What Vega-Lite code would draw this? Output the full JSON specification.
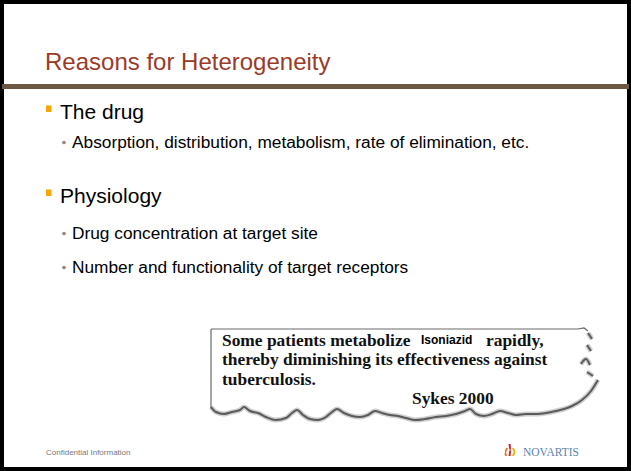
{
  "$schema": "https://vega.github.io/schema/vega-lite/v6.json",
  "width": 631,
  "height": 471,
  "autosize": {"type": "none"},
  "padding": 0,
  "background": "white",
  "config": {"view": {"stroke": null}},
  "datasets": {
    "texts": [
      {"role": "title", "x": 45, "y": 70, "label": "Reasons for Heterogeneity"},
      {"role": "l1", "x": 60, "y": 119, "label": "The drug"},
      {"role": "l2", "x": 72, "y": 148, "label": "Absorption, distribution, metabolism, rate of elimination, etc."},
      {"role": "l1", "x": 60, "y": 203, "label": "Physiology"},
      {"role": "l2", "x": 72, "y": 239, "label": "Drug concentration at target site"},
      {"role": "l2", "x": 72, "y": 273, "label": "Number and functionality of target receptors"},
      {"role": "quote", "x": 222, "y": 346, "label": "Some patients metabolize"},
      {"role": "quote", "x": 486, "y": 346, "label": "rapidly,"},
      {"role": "quote", "x": 222, "y": 365, "label": "thereby diminishing its effectiveness against"},
      {"role": "quote", "x": 222, "y": 385, "label": "tuberculosis."},
      {"role": "quote", "x": 412, "y": 404, "label": "Sykes 2000"},
      {"role": "drugname", "x": 421, "y": 344, "label": "Isoniazid"},
      {"role": "footer", "x": 46, "y": 455, "label": "Confidential Information"},
      {"role": "brand", "x": 523, "y": 456, "label": "NOVARTIS"}
    ],
    "boxes": [
      {"part": "frame", "x": 2, "x2": 629, "y": 2, "y2": 469},
      {"part": "band", "x": 2, "x2": 629, "y": 84, "y2": 89},
      {"part": "square", "x": 46, "x2": 51.5, "y": 105.5, "y2": 112},
      {"part": "square", "x": 46, "x2": 51.5, "y": 189.5, "y2": 196}
    ],
    "dots": [
      {"x": 64, "y": 142.5},
      {"x": 64, "y": 233.5},
      {"x": 64, "y": 267.5}
    ],
    "paper": [
      {"seg": "top", "i": 1, "x": 211, "y": 329},
      {"seg": "top", "i": 2, "x": 578, "y": 329},
      {"seg": "top", "i": 3, "x": 584, "y": 328},
      {"seg": "top", "i": 4, "x": 588, "y": 331},
      {"seg": "left", "i": 1, "x": 211, "y": 329},
      {"seg": "left", "i": 2, "x": 211, "y": 408}
    ],
    "torn": [
      {"seg": "b", "i": 1, "x": 211, "y": 407},
      {"seg": "b", "i": 2, "x": 216, "y": 412},
      {"seg": "b", "i": 3, "x": 224, "y": 414},
      {"seg": "b", "i": 4, "x": 232, "y": 412},
      {"seg": "b", "i": 5, "x": 240, "y": 410},
      {"seg": "b", "i": 6, "x": 244, "y": 407},
      {"seg": "b", "i": 7, "x": 250, "y": 411},
      {"seg": "b", "i": 8, "x": 258, "y": 413},
      {"seg": "b", "i": 9, "x": 266, "y": 417},
      {"seg": "b", "i": 10, "x": 276, "y": 420},
      {"seg": "b", "i": 11, "x": 286, "y": 418},
      {"seg": "b", "i": 12, "x": 292, "y": 413},
      {"seg": "b", "i": 13, "x": 297, "y": 410},
      {"seg": "b", "i": 14, "x": 303, "y": 415},
      {"seg": "b", "i": 15, "x": 310, "y": 419},
      {"seg": "b", "i": 16, "x": 318, "y": 420},
      {"seg": "b", "i": 17, "x": 326, "y": 417},
      {"seg": "b", "i": 18, "x": 332, "y": 412},
      {"seg": "b", "i": 19, "x": 337, "y": 409},
      {"seg": "b", "i": 20, "x": 344, "y": 413},
      {"seg": "b", "i": 21, "x": 352, "y": 416},
      {"seg": "b", "i": 22, "x": 360, "y": 417},
      {"seg": "b", "i": 23, "x": 368, "y": 415},
      {"seg": "b", "i": 24, "x": 375, "y": 411},
      {"seg": "b", "i": 25, "x": 382, "y": 413},
      {"seg": "b", "i": 26, "x": 390, "y": 415},
      {"seg": "b", "i": 27, "x": 398, "y": 416},
      {"seg": "b", "i": 28, "x": 406, "y": 418},
      {"seg": "b", "i": 29, "x": 415, "y": 420},
      {"seg": "b", "i": 30, "x": 425, "y": 419},
      {"seg": "b", "i": 31, "x": 436, "y": 417},
      {"seg": "b", "i": 32, "x": 446, "y": 416},
      {"seg": "b", "i": 33, "x": 456, "y": 414},
      {"seg": "b", "i": 34, "x": 465, "y": 411},
      {"seg": "b", "i": 35, "x": 470, "y": 409},
      {"seg": "b", "i": 36, "x": 476, "y": 414},
      {"seg": "b", "i": 37, "x": 484, "y": 416},
      {"seg": "b", "i": 38, "x": 492, "y": 414},
      {"seg": "b", "i": 39, "x": 500, "y": 411},
      {"seg": "b", "i": 40, "x": 508, "y": 413},
      {"seg": "b", "i": 41, "x": 516, "y": 415},
      {"seg": "b", "i": 42, "x": 526, "y": 414},
      {"seg": "b", "i": 43, "x": 536, "y": 414},
      {"seg": "b", "i": 44, "x": 546, "y": 413},
      {"seg": "b", "i": 45, "x": 556, "y": 411},
      {"seg": "b", "i": 46, "x": 564, "y": 409},
      {"seg": "b", "i": 47, "x": 572, "y": 406},
      {"seg": "b", "i": 48, "x": 582, "y": 400},
      {"seg": "b", "i": 49, "x": 591, "y": 391},
      {"seg": "b", "i": 50, "x": 598, "y": 380},
      {"seg": "r1", "i": 1, "x": 588, "y": 333},
      {"seg": "r1", "i": 2, "x": 592, "y": 339},
      {"seg": "r2", "i": 1, "x": 587, "y": 345},
      {"seg": "r2", "i": 2, "x": 591, "y": 351},
      {"seg": "r3", "i": 1, "x": 581, "y": 364},
      {"seg": "r3", "i": 2, "x": 586, "y": 359},
      {"seg": "r3", "i": 3, "x": 590, "y": 365},
      {"seg": "r4", "i": 1, "x": 587, "y": 372},
      {"seg": "r4", "i": 2, "x": 593, "y": 376}
    ],
    "logo": [
      {"part": "orange", "i": 1, "x": 506, "y": 456},
      {"part": "orange", "i": 2, "x": 505, "y": 452},
      {"part": "orange", "i": 3, "x": 507, "y": 448},
      {"part": "red", "i": 1, "x": 509.5, "y": 456},
      {"part": "red", "i": 2, "x": 510.5, "y": 450},
      {"part": "red", "i": 3, "x": 509.5, "y": 444},
      {"part": "gold", "i": 1, "x": 513, "y": 456},
      {"part": "gold", "i": 2, "x": 515, "y": 452},
      {"part": "gold", "i": 3, "x": 513, "y": 448}
    ]
  },
  "encoding": {
    "x": {"field": "x", "type": "quantitative", "scale": {"domain": [0, 631], "nice": false, "zero": false}, "axis": null},
    "y": {"field": "y", "type": "quantitative", "scale": {"domain": [0, 471], "nice": false, "zero": false, "reverse": true}, "axis": null}
  },
  "layer": [
    {
      "data": {"name": "boxes"},
      "transform": [{"filter": "datum.part === 'frame'"}],
      "mark": {"type": "rect", "filled": false, "stroke": "#000000", "strokeWidth": 4},
      "encoding": {"x2": {"field": "x2"}, "y2": {"field": "y2"}}
    },
    {
      "data": {"name": "boxes"},
      "transform": [{"filter": "datum.part === 'band'"}],
      "mark": {"type": "rect", "color": "#6b5742"},
      "encoding": {"x2": {"field": "x2"}, "y2": {"field": "y2"}}
    },
    {
      "data": {"name": "boxes"},
      "transform": [{"filter": "datum.part === 'square'"}],
      "mark": {"type": "rect", "color": "#f7a600"},
      "encoding": {"x2": {"field": "x2"}, "y2": {"field": "y2"}}
    },
    {
      "data": {"name": "dots"},
      "mark": {"type": "circle", "color": "#9a8878", "size": 14, "opacity": 1}
    },
    {
      "data": {"name": "paper"},
      "mark": {"type": "line", "color": "#6a6a6a", "strokeWidth": 1.2},
      "encoding": {"detail": {"field": "seg"}, "order": {"field": "i"}}
    },
    {
      "data": {"name": "torn"},
      "mark": {"type": "line", "color": "#a0a0a0", "strokeWidth": 5, "opacity": 0.5, "interpolate": "monotone"},
      "encoding": {"detail": {"field": "seg"}, "order": {"field": "i"}}
    },
    {
      "data": {"name": "torn"},
      "mark": {"type": "line", "color": "#5a5a5a", "strokeWidth": 2, "interpolate": "monotone"},
      "encoding": {"detail": {"field": "seg"}, "order": {"field": "i"}}
    },
    {
      "data": {"name": "logo"},
      "mark": {"type": "line", "strokeWidth": 2, "interpolate": "monotone"},
      "encoding": {
        "detail": {"field": "part"},
        "order": {"field": "i"},
        "color": {"field": "part", "type": "nominal", "scale": {"domain": ["orange", "red", "gold"], "range": ["#e8771e", "#c8242e", "#f2b000"]}, "legend": null}
      }
    },
    {
      "data": {"name": "texts"},
      "transform": [{"filter": "datum.role === 'title'"}],
      "mark": {"type": "text", "align": "left", "baseline": "alphabetic", "font": "Liberation Sans", "fontSize": 24, "color": "#9c3a28"},
      "encoding": {"text": {"field": "label"}}
    },
    {
      "data": {"name": "texts"},
      "transform": [{"filter": "datum.role === 'l1'"}],
      "mark": {"type": "text", "align": "left", "baseline": "alphabetic", "font": "Liberation Sans", "fontSize": 21, "color": "#000000"},
      "encoding": {"text": {"field": "label"}}
    },
    {
      "data": {"name": "texts"},
      "transform": [{"filter": "datum.role === 'l2'"}],
      "mark": {"type": "text", "align": "left", "baseline": "alphabetic", "font": "Liberation Sans", "fontSize": 17.3, "color": "#000000"},
      "encoding": {"text": {"field": "label"}}
    },
    {
      "data": {"name": "texts"},
      "transform": [{"filter": "datum.role === 'quote'"}],
      "mark": {"type": "text", "align": "left", "baseline": "alphabetic", "font": "Liberation Serif", "fontWeight": "bold", "fontSize": 17.4, "color": "#111111"},
      "encoding": {"text": {"field": "label"}}
    },
    {
      "data": {"name": "texts"},
      "transform": [{"filter": "datum.role === 'drugname'"}],
      "mark": {"type": "text", "align": "left", "baseline": "alphabetic", "font": "Liberation Sans", "fontWeight": "bold", "fontSize": 12, "color": "#000000"},
      "encoding": {"text": {"field": "label"}}
    },
    {
      "data": {"name": "texts"},
      "transform": [{"filter": "datum.role === 'footer'"}],
      "mark": {"type": "text", "align": "left", "baseline": "alphabetic", "font": "Liberation Sans", "fontSize": 8, "color": "#777777"},
      "encoding": {"text": {"field": "label"}}
    },
    {
      "data": {"name": "texts"},
      "transform": [{"filter": "datum.role === 'brand'"}],
      "mark": {"type": "text", "align": "left", "baseline": "alphabetic", "font": "Liberation Serif", "fontSize": 11.5, "letterSpacing": 1.6, "color": "#5b84ae"},
      "encoding": {"text": {"field": "label"}}
    }
  ]
}
